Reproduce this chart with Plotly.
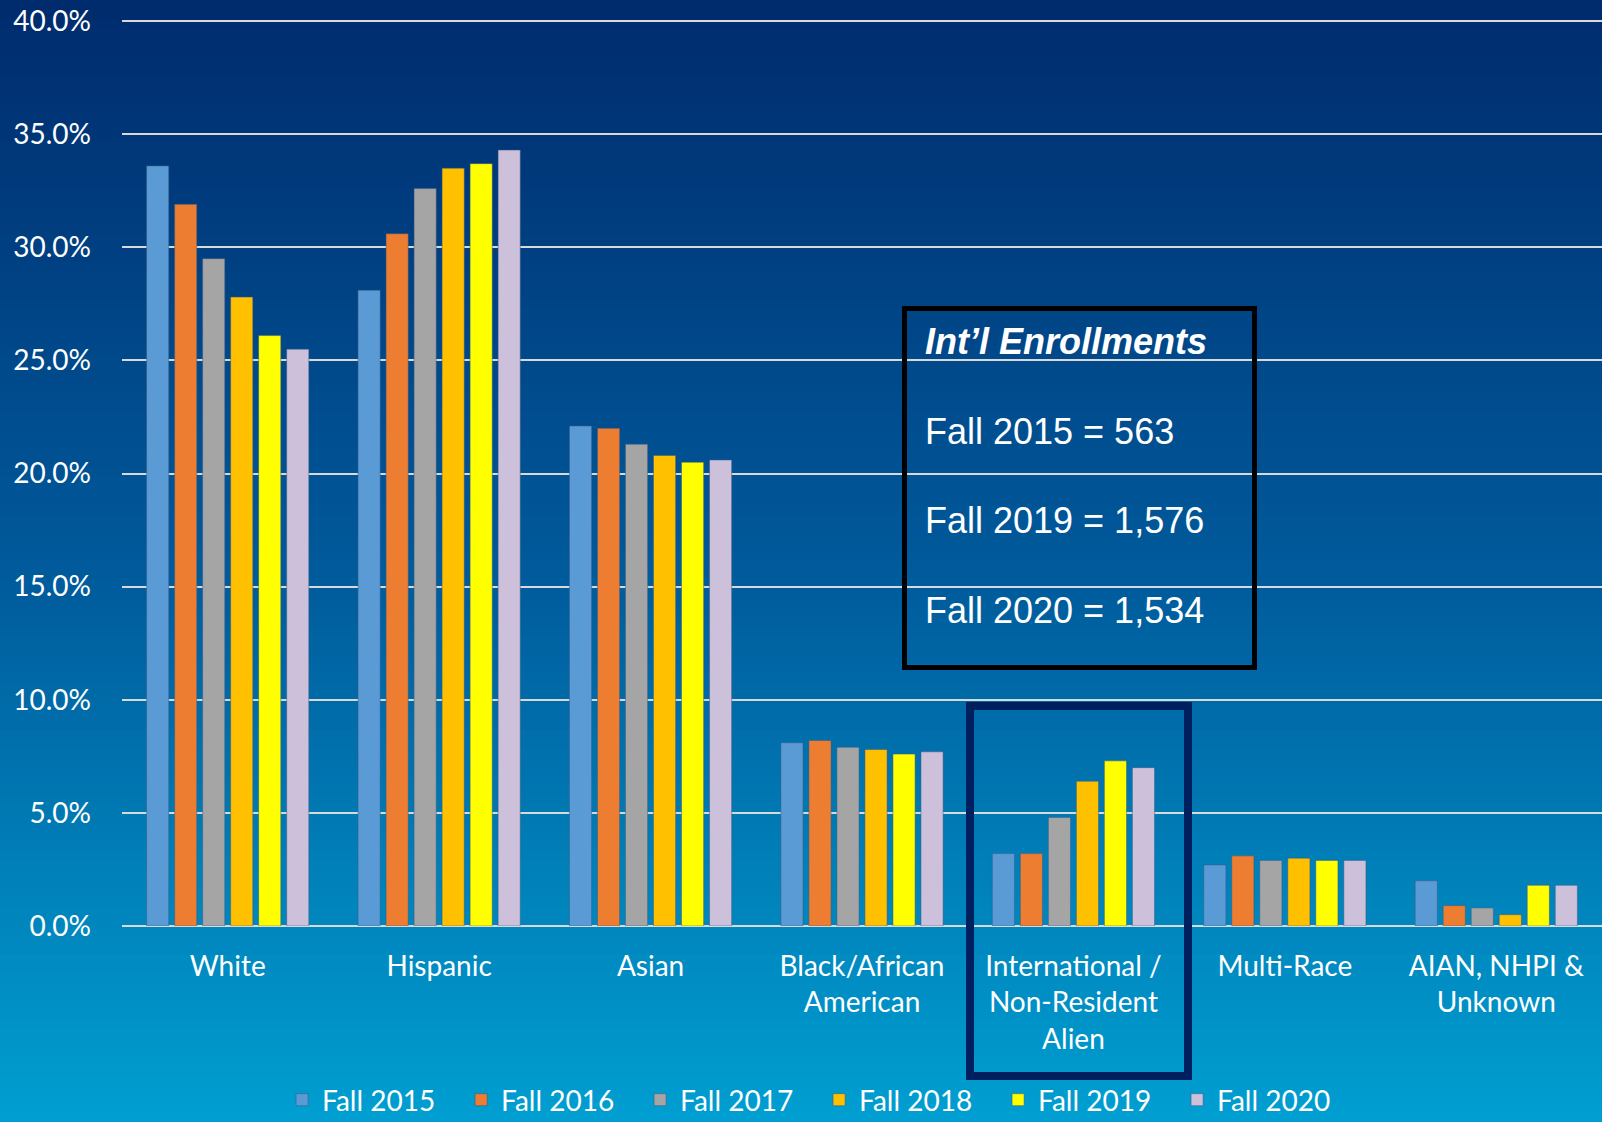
import plotly.graph_objs as go

# categories / series
categories = ["White", "Hispanic", "Asian", "Black/African<br>American",
              "International /<br>Non-Resident<br>Alien", "Multi-Race",
              "AIAN, NHPI &<br>Unknown"]
terms = ["Fall 2015", "Fall 2016", "Fall 2017", "Fall 2018", "Fall 2019", "Fall 2020"]

fall_2015 = [33.6, 28.1, 22.1, 8.1, 3.2, 2.7, 2.0]
fall_2016 = [31.9, 30.6, 22.0, 8.2, 3.2, 3.1, 0.9]
fall_2017 = [29.5, 32.6, 21.3, 7.9, 4.8, 2.9, 0.8]
fall_2018 = [27.8, 33.5, 20.8, 7.8, 6.4, 3.0, 0.5]
fall_2019 = [26.1, 33.7, 20.5, 7.6, 7.3, 2.9, 1.8]
fall_2020 = [25.5, 34.3, 20.6, 7.7, 7.0, 2.9, 1.8]
series = [fall_2015, fall_2016, fall_2017, fall_2018, fall_2019, fall_2020]

intl_lines = ["Fall 2015 = 563", "Fall 2019 = 1,576", "Fall 2020 = 1,534"]

colors = ["#5b9bd5", "#ed7d31", "#a5a5a5", "#ffc000", "#ffff00", "#ccc0da"]

fig = go.Figure()
for name, vals, c in zip(terms, series, colors):
    fig.add_trace(go.Bar(x=categories, y=vals, name=name,
                         marker=dict(color=c, line=dict(color="rgba(60,90,130,0.5)", width=1))))

# background gradient (paper coords, covering margins too)
W, H = 1602, 1122
ml, mr, mt, mb = 122, 0, 20, 196
pw, ph = W - ml - mr, H - mt - mb
top = (0, 44, 110)
mid = (0, 90, 155)
bot = (0, 160, 210)
shapes = []
n = 120
for i in range(n):
    f = i / n
    if f < 0.5:
        t = f / 0.5
        rgb = [int(top[k] + (mid[k] - top[k]) * t) for k in range(3)]
    else:
        t = (f - 0.5) / 0.5
        rgb = [int(mid[k] + (bot[k] - mid[k]) * t) for k in range(3)]
    py0 = H * i / n
    py1 = H * (i + 1) / n + 1
    shapes.append(dict(type="rect", xref="paper", yref="paper",
                       x0=-ml / pw, x1=1.01,
                       y0=(H - mb - py1) / ph, y1=(H - mb - py0) / ph,
                       fillcolor="rgb(%d,%d,%d)" % tuple(rgb), line=dict(width=0),
                       layer="below"))

def px_x(x):
    return (x - ml) / pw

def px_y(y):
    return (H - mb - y) / ph

# highlight box round International group
shapes.append(dict(type="rect", xref="paper", yref="paper",
                   x0=px_x(970), x1=px_x(1188), y0=px_y(1076), y1=px_y(706),
                   line=dict(color="#001f5f", width=8), layer="above"))
# text box
shapes.append(dict(type="rect", xref="paper", yref="paper",
                   x0=px_x(904.5), x1=px_x(1254.5), y0=px_y(667.5), y1=px_y(308.5),
                   line=dict(color="black", width=5), layer="above"))

annotations = [dict(text="<b><i>Int’l Enrollments</i></b>", xref="paper", yref="paper",
                    x=px_x(923), y=px_y(341), xanchor="left", yanchor="middle",
                    showarrow=False, font=dict(family="Liberation Sans", size=36, color="white"))]
for txt, py in zip(intl_lines, [431, 520, 610]):
    annotations.append(dict(text=txt, xref="paper", yref="paper",
                            x=px_x(923), y=px_y(py), xanchor="left", yanchor="middle",
                            showarrow=False,
                            font=dict(family="Liberation Sans", size=36, color="white")))

fig.update_layout(
    width=W, height=H,
    margin=dict(l=ml, r=mr, t=mt, b=mb, autoexpand=False),
    paper_bgcolor="#0090c5",
    plot_bgcolor="rgba(0,0,0,0)",
    barmode="group", bargap=0.205, bargroupgap=0.21,
    font=dict(family="Lato", color="white"),
    shapes=shapes, annotations=annotations,
    showlegend=True,
    legend=dict(orientation="h", x=0.471, xanchor="center", y=px_y(1100), yanchor="middle",
                font=dict(family="Lato", size=28, color="white"),
                bgcolor="rgba(0,0,0,0)", entrywidth=134, entrywidthmode="pixels"),
    xaxis=dict(tickfont=dict(family="Lato", size=28, color="white"),
               showgrid=False, showline=False, ticks="", ticklabelstandoff=21),
    yaxis=dict(range=[0, 40.05], dtick=5, ticksuffix="%", tickformat=".1f",
               tickfont=dict(family="Lato", size=28, color="white"),
               gridcolor="#d9d9d9", gridwidth=2, zeroline=True, zerolinecolor="#d9d9d9",
               zerolinewidth=2, ticks="", ticklabelstandoff=30),
)

fig.write_html("out.html", config={"displayModeBar": False},
               post_script="document.body.style.margin='0';")
